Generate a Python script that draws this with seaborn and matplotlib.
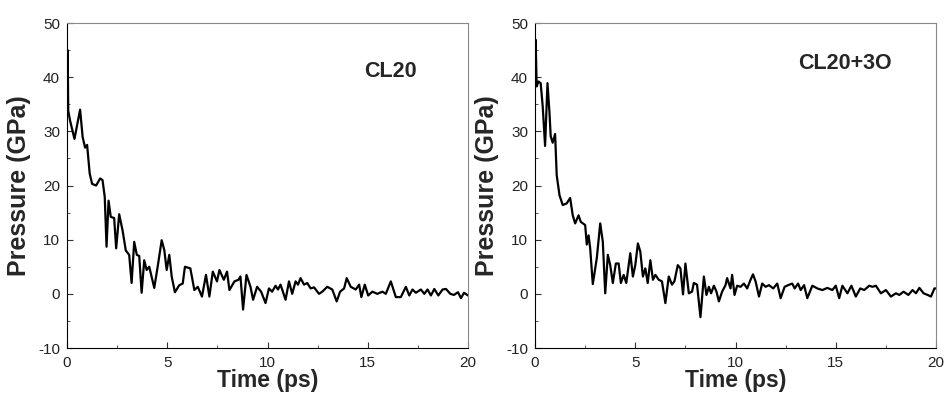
import pandas as pd
import matplotlib.pyplot as plt
import seaborn as sns

# CL20 pressure vs time
time_cl20 = [0.0, 0.03, 0.06, 0.15, 0.37, 0.65, 0.78, 0.9, 1.0, 1.13, 1.25, 1.45, 1.65, 1.77, 1.88,
             1.97, 2.07, 2.18, 2.35, 2.45, 2.6, 2.77, 2.93, 3.1, 3.22, 3.35, 3.48, 3.6, 3.72, 3.85,
             3.97, 4.1, 4.35, 4.52, 4.72, 4.85, 4.97, 5.1, 5.22, 5.38, 5.6, 5.77, 5.88, 6.15, 6.35,
             6.52, 6.73, 6.93, 7.1, 7.27, 7.48, 7.6, 7.82, 7.98, 8.1, 8.35, 8.55, 8.65, 8.78, 8.95,
             9.15, 9.28, 9.48, 9.68, 9.9, 10.07, 10.23, 10.4, 10.52, 10.65, 10.9, 11.07, 11.23,
             11.4, 11.52, 11.65, 11.82, 11.98, 12.15, 12.32, 12.57, 12.73, 12.98, 13.23, 13.45,
             13.62, 13.82, 13.95, 14.15, 14.4, 14.57, 14.68, 14.85, 15.02, 15.23, 15.48, 15.73,
             15.9, 16.15, 16.4, 16.65, 16.9, 17.07, 17.23, 17.4, 17.65, 17.82, 17.98, 18.15,
             18.32, 18.52, 18.73, 18.9, 19.12, 19.3, 19.5, 19.65, 19.8, 20.0]
p_cl20 = [38.0, 45.0, 33.8, 32.0, 28.6, 34.0, 28.9, 27.0, 27.5, 22.2, 20.3, 20.0, 21.3, 21.0, 17.9,
          8.7, 17.2, 14.2, 14.0, 8.4, 14.7, 11.7, 8.0, 7.2, 2.0, 9.6, 7.2, 7.0, 0.2, 6.2,
          4.4, 5.0, 1.1, 5.0, 9.9, 8.1, 4.4, 7.2, 3.2, 0.3, 1.6, 1.9, 5.0, 4.7, 0.7,
          1.3, -0.5, 3.5, -0.5, 4.1, 2.3, 4.4, 2.6, 4.1, 0.7, 2.3, 2.6, 3.2, -2.9, 3.5,
          1.3, -1.1, 1.3, 0.4, -1.7, 1.0, 0.4, 1.5, 0.8, 1.7, -1.1, 2.3, 0.0,
          2.3, 1.7, 2.9, 1.7, 2.0, 1.0, 1.2, 0.0, 0.4, 1.3, 0.8, -1.4,
          0.4, 1.0, 2.9, 1.3, 0.8, 1.7, -0.6, 1.7, -0.3, 0.4, 0.0, 0.4,
          0.0, 2.3, -0.6, -0.6, 1.3, -0.3, 0.8, 0.2, 0.8, 0.0, 0.8, -0.3,
          0.9, -0.3, 0.8, 0.9, 0.0, -0.2, 0.3, -0.8, 0.2, -0.3]

# CL20+3O pressure vs time
time_cl20_3o = [0.0, 0.03, 0.08, 0.17, 0.28, 0.38, 0.5, 0.62, 0.72, 0.78, 0.88, 1.0, 1.08, 1.22,
                1.38, 1.58, 1.75, 1.88, 2.0, 2.17, 2.28, 2.5, 2.58, 2.67, 2.75, 2.88, 3.08, 3.25,
                3.38, 3.5, 3.63, 3.75, 3.88, 4.03, 4.17, 4.28, 4.42, 4.55, 4.75, 4.88, 5.0, 5.13,
                5.25, 5.38, 5.5, 5.62, 5.75, 5.88, 6.0, 6.17, 6.33, 6.5, 6.67, 6.83, 6.95, 7.12,
                7.25, 7.38, 7.5, 7.67, 7.83, 7.92, 8.08, 8.25, 8.42, 8.55, 8.67, 8.78, 8.92, 9.05,
                9.17, 9.33, 9.5, 9.58, 9.75, 9.83, 9.95, 10.08, 10.25, 10.42, 10.58, 10.75, 10.87,
                11.0, 11.17, 11.33, 11.5, 11.67, 11.88, 12.08, 12.25, 12.45, 12.62, 12.83, 12.95,
                13.12, 13.25, 13.42, 13.58, 13.83, 14.08, 14.33, 14.58, 14.83, 15.0, 15.17, 15.33,
                15.58, 15.78, 16.0, 16.22, 16.42, 16.67, 16.83, 17.0, 17.25, 17.5, 17.75, 18.0,
                18.17, 18.38, 18.62, 18.83, 19.0, 19.17, 19.38, 19.58, 19.75, 19.92, 20.0]
p_cl20_3o = [40.0, 46.9, 38.3, 39.2, 38.9, 34.7, 27.3, 38.9, 33.4, 29.1, 27.9, 29.5, 21.9, 18.2,
             16.4, 16.7, 17.7, 14.5, 13.0, 14.5, 13.3, 12.7, 9.1, 10.8, 8.4, 1.8, 6.6, 13.0,
             9.6, 0.1, 7.2, 5.3, 2.0, 5.6, 5.6, 2.0, 3.5, 2.0, 7.5, 3.2, 5.3, 9.3,
             7.8, 3.2, 4.7, 2.0, 6.2, 2.6, 3.5, 2.6, 2.3, -1.7, 3.2, 1.7, 2.3, 5.3,
             4.7, -0.1, 5.6, 0.1, 0.4, 2.0, 1.7, -4.3, 3.2, -0.2, 1.3, 0.1, 1.5, 0.4,
             -1.4, 0.4, 1.6, 2.9, 1.0, 3.5, -0.2, 1.5, 1.3, 1.9, 1.0, 2.6, 3.6,
             2.3, -0.5, 1.9, 1.3, 1.6, 1.0, 1.9, -0.8, 1.3, 1.6, 1.9, 1.0,
             1.9, 0.7, 1.6, -0.8, 1.5, 1.0, 0.7, 1.1, 0.7, 1.5, -0.8, 1.5,
             0.1, 1.5, -0.5, 1.0, 0.7, 1.5, 1.3, 1.5, 0.1, 0.7, -0.5, 0.1,
             -0.2, 0.4, -0.2, 0.7, 0.1, 1.1, 0.1, -0.2, -0.5, 1.0, 1.0]

sns.set_style('ticks')
plt.rcParams['font.family'] = ['Liberation Sans', 'DejaVu Sans']

fig = plt.figure(figsize=(9.47, 3.98), dpi=100)
ax1 = fig.add_axes([0.0708, 0.1256, 0.4234, 0.8166])
ax2 = fig.add_axes([0.565, 0.1256, 0.4234, 0.8166])

panels = [(ax1, time_cl20, p_cl20, 'CL20', 16.15, 41.0),
          (ax2, time_cl20_3o, p_cl20_3o, 'CL20+3O', 15.45, 42.5)]

for ax, t, p, name, tx, ty in panels:
    df = pd.DataFrame({'Time': t, 'Pressure': p})
    sns.lineplot(data=df, x='Time', y='Pressure', ax=ax, color='black', linewidth=1.6,
                 estimator=None, sort=False)
    ax.set_xlim(0, 20)
    ax.set_ylim(-10, 50)
    ax.set_xticks([0, 5, 10, 15, 20])
    ax.set_xticks([2.5, 7.5, 12.5, 17.5], minor=True)
    ax.set_yticks([-10, 0, 10, 20, 30, 40, 50])
    ax.set_yticks([-5, 5, 15, 25, 35, 45], minor=True)
    ax.set_yticklabels(['-10', '0', '10', '20', '30', '40', '50'])
    ax.tick_params(which='both', direction='in', colors='#333333', labelcolor='#222222',
                   labelsize=11)
    ax.tick_params(which='major', length=4)
    ax.tick_params(which='minor', length=2.5)
    ax.tick_params(axis='x', pad=6)
    ax.tick_params(axis='y', pad=5)
    for side in ['left', 'bottom']:
        ax.spines[side].set_color('black')
    for side in ['top', 'right']:
        ax.spines[side].set_color('#888888')
    ax.set_xlabel('Time (ps)', fontsize=16.5, fontweight='bold', labelpad=-1)
    ax.set_ylabel('Pressure (GPa)', fontsize=18, fontweight='bold', labelpad=5)
    ax.text(tx, ty, name, fontsize=15.5, fontweight='bold', ha='center', va='center')

fig.savefig('out.png', dpi=100)
